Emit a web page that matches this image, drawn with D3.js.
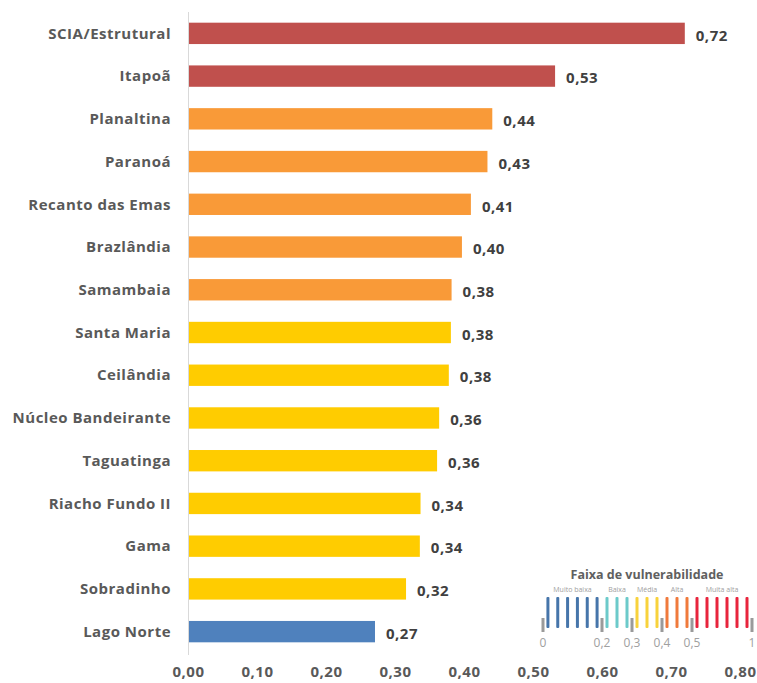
<!DOCTYPE html>
<html><head><meta charset="utf-8">
<script src="https://cdn.jsdelivr.net/npm/d3@7"></script>
<style>body{margin:0;background:#fff}svg{display:block}</style>
</head><body>
<svg id="c" width="757" height="683"></svg>
<script>
const categories = ["SCIA/Estrutural","Itapoã","Planaltina","Paranoá","Recanto das Emas","Brazlândia","Samambaia","Santa Maria","Ceilândia","Núcleo Bandeirante","Taguatinga","Riacho Fundo II","Gama","Sobradinho","Lago Norte"];
const values = [0.72,0.532,0.441,0.434,0.41,0.397,0.382,0.381,0.378,0.364,0.361,0.337,0.336,0.316,0.271];
const classes = ["Muito alta","Muito alta","Alta","Alta","Alta","Alta","Alta","Média","Média","Média","Média","Média","Média","Média","Muito baixa"];
const classNames = ["Muito baixa","Baixa","Média","Alta","Muito alta"];
const barColors = ["#4F81BD","#4BACC6","#FFCC00","#F99A38","#C0504D"];
const xTicks = [0,0.1,0.2,0.3,0.4,0.5,0.6,0.7,0.8];
// legend
const legendTitle = "Faixa de vulnerabilidade";
const legendBreaks = [0,0.2,0.3,0.4,0.5,1];
const legendLabels = ["Muito baixa","Baixa","Média","Alta","Muita alta"];
const legendStripes = [6,3,3,3,6];
const legendColors = ["#4675AA","#6CCACA","#F8D23C","#F07A3C","#E8243C"];
const legendTickLabels = ["0","0,2","0,3","0,4","0,5","1"];

const svg = d3.select("#c");
const x = d3.scaleLinear().domain([0,0.8]).range([188,740]);
const y = d3.scaleBand().domain(categories).range([12,653]).paddingInner(0.5).paddingOuter(0.25);
const color = d3.scaleOrdinal().domain(classNames).range(barColors);
const fmt = v => d3.format(".2f")(v).replace(".",",");
const font = "'Open Sans', sans-serif";

svg.append("line").attr("x1",x(0)+0.5).attr("x2",x(0)+0.5).attr("y1",12).attr("y2",655)
  .attr("stroke","#d9d9d9").attr("stroke-width",1);

svg.selectAll("rect.bar").data(values).join("rect").attr("class","bar")
  .attr("x",x(0)+1).attr("y",(d,i)=>y(categories[i]))
  .attr("width",d=>x(d)-x(0)-1).attr("height",y.bandwidth())
  .attr("fill",(d,i)=>color(classes[i]));

svg.selectAll("text.cat").data(categories).join("text").attr("class","cat")
  .attr("x",171).attr("y",d=>y(d)+y.bandwidth()/2).attr("dy","0.35em")
  .attr("text-anchor","end").attr("font-family",font).attr("font-weight","bold")
  .attr("font-size",15).attr("letter-spacing",0.5).attr("fill","#595959").text(d=>d);

svg.selectAll("text.val").data(values).join("text").attr("class","val")
  .attr("x",d=>x(d)+11).attr("y",(d,i)=>y(categories[i])+y.bandwidth()/2+2).attr("dy","0.35em")
  .attr("font-family",font).attr("font-weight","bold")
  .attr("font-size",15).attr("letter-spacing",0.5).attr("fill","#404040").text(d=>fmt(d));

const xa = svg.append("g").attr("transform","translate(0,655)")
  .call(d3.axisBottom(x).tickValues(xTicks).tickSize(0).tickPadding(11).tickFormat(fmt));
xa.select(".domain").remove();
xa.selectAll("text").attr("font-family",font).attr("font-weight","bold").attr("font-size",15)
  .attr("letter-spacing",0.5).attr("fill","#595959");

// legend
const lx = d3.scaleLinear().domain(legendBreaks).range([543,602,632,662,692,752]);
const lg = svg.append("g");
lg.append("text").attr("x",647).attr("y",575).attr("dy","0.35em").attr("text-anchor","middle")
  .attr("font-family",font).attr("font-weight","bold").attr("font-size",12.5).attr("fill","#606060").text(legendTitle);
legendLabels.forEach((lab,i)=>{
  const a = legendBreaks[i], b = legendBreaks[i+1];
  lg.append("text").attr("x",lx((a+b)/2)).attr("y",590).attr("dy","0.35em").attr("text-anchor","middle")
    .attr("font-family",font).attr("font-size",7).attr("fill","#a0a0a0").text(lab);
  const n = legendStripes[i];
  for(let k=0;k<n;k++){
    const px = lx(a) + (k+0.5)*(lx(b)-lx(a))/n;
    lg.append("rect").attr("x",px-1.5).attr("y",597).attr("width",3).attr("height",31)
      .attr("rx",1).attr("fill",legendColors[i]);
  }
});
legendBreaks.forEach((v,i)=>{
  lg.append("rect").attr("x",lx(v)-1.5).attr("y",618).attr("width",3).attr("height",14).attr("fill","#9a9a9a");
  lg.append("text").attr("x",lx(v)).attr("y",643).attr("dy","0.35em").attr("text-anchor","middle")
    .attr("font-family",font).attr("font-size",12).attr("fill","#a0a0a0").text(legendTickLabels[i]);
});
</script>
</body></html>
